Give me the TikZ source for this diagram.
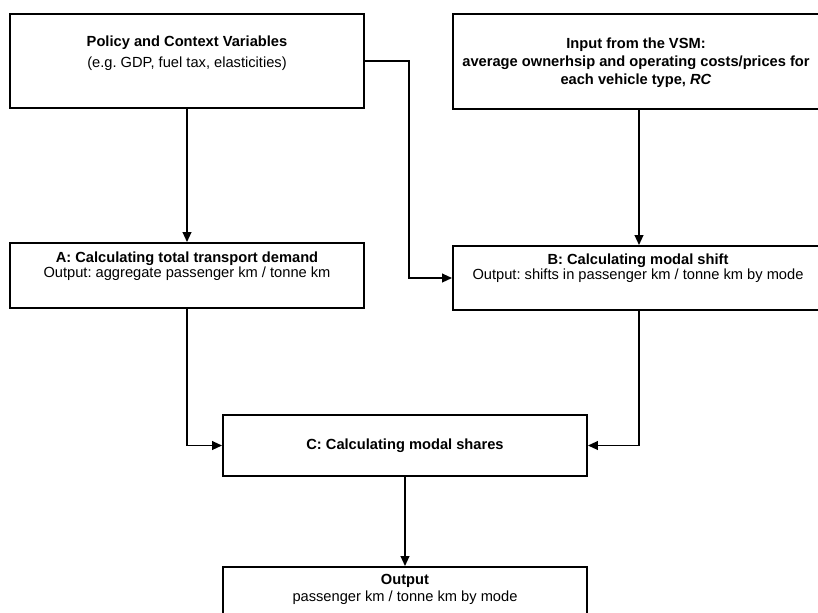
\documentclass[tikz,border=0pt]{standalone}
\usepackage{fontspec}
\setmainfont{Liberation Sans}
\usetikzlibrary{arrows.meta,positioning,fit}
\frenchspacing

\begin{document}
\begin{tikzpicture}[
  x=0.75pt, y=-0.75pt,
  box/.style={draw, line width=1.4pt, inner sep=0pt},
  txt/.style={align=center, inner sep=0pt, anchor=north},
  arr/.style={line width=1.4pt, -{Triangle[length=7.5pt,width=6.5pt]}}
]
\useasboundingbox (0,0) rectangle (818,612);
\node[box, fit={(10,14) (364,108)}] (pol) {};
\node[box, fit={(453,14) (825,109)}] (vsm) {};
\node[box, fit={(10,243) (364,308)}] (dema) {};
\node[box, fit={(453,246) (825,310)}] (shiftb) {};
\node[box, fit={(223,415) (587,476)}] (sharec) {};
\node[box, fit={(223,567) (587,630)}] (out) {};

\node[txt, font=\fontsize{11}{15.75}\selectfont] (polt) at (187,35.5)
  {\textbf{Policy and Context Variables}\\(e.g. GDP, fuel tax, elasticities)};
\node[txt, font=\fontsize{11}{13.5}\selectfont\bfseries] (vsmt) at (636,37.5)
  {Input from the VSM:\\average ownerhsip and operating costs/prices for\\each vehicle type, \textit{RC}};
\node[txt, font=\fontsize{11}{11.25}\selectfont] (demat) at (187,251.5)
  {\textbf{A: Calculating total transport demand}\\Output: aggregate passenger km / tonne km};
\node[txt, font=\fontsize{11}{11.25}\selectfont] (shiftt) at (638,253.5)
  {\textbf{B: Calculating modal shift}\\Output: shifts in passenger km / tonne km by mode};
\node[inner sep=0pt, anchor=base, font=\fontsize{11}{12}\selectfont\bfseries] (sharet) at (405,449)
  {C: Calculating modal shares};
\node[txt, font=\fontsize{11}{12.75}\selectfont] (outt) at (405,573.5)
  {\textbf{Output}\\passenger km / tonne km by mode};

\draw[arr] (pol.south) -- (dema.north);
\draw[arr] (pol.east) -- ++(44,0) |- (shiftb.west);
\draw[arr] (vsm.south) -- (shiftb.north);
\draw[arr] (dema.south) |- (sharec.west);
\draw[arr] (shiftb.south) |- (sharec.east);
\draw[arr] (sharec.south) -- (out.north);
\end{tikzpicture}
\end{document}
